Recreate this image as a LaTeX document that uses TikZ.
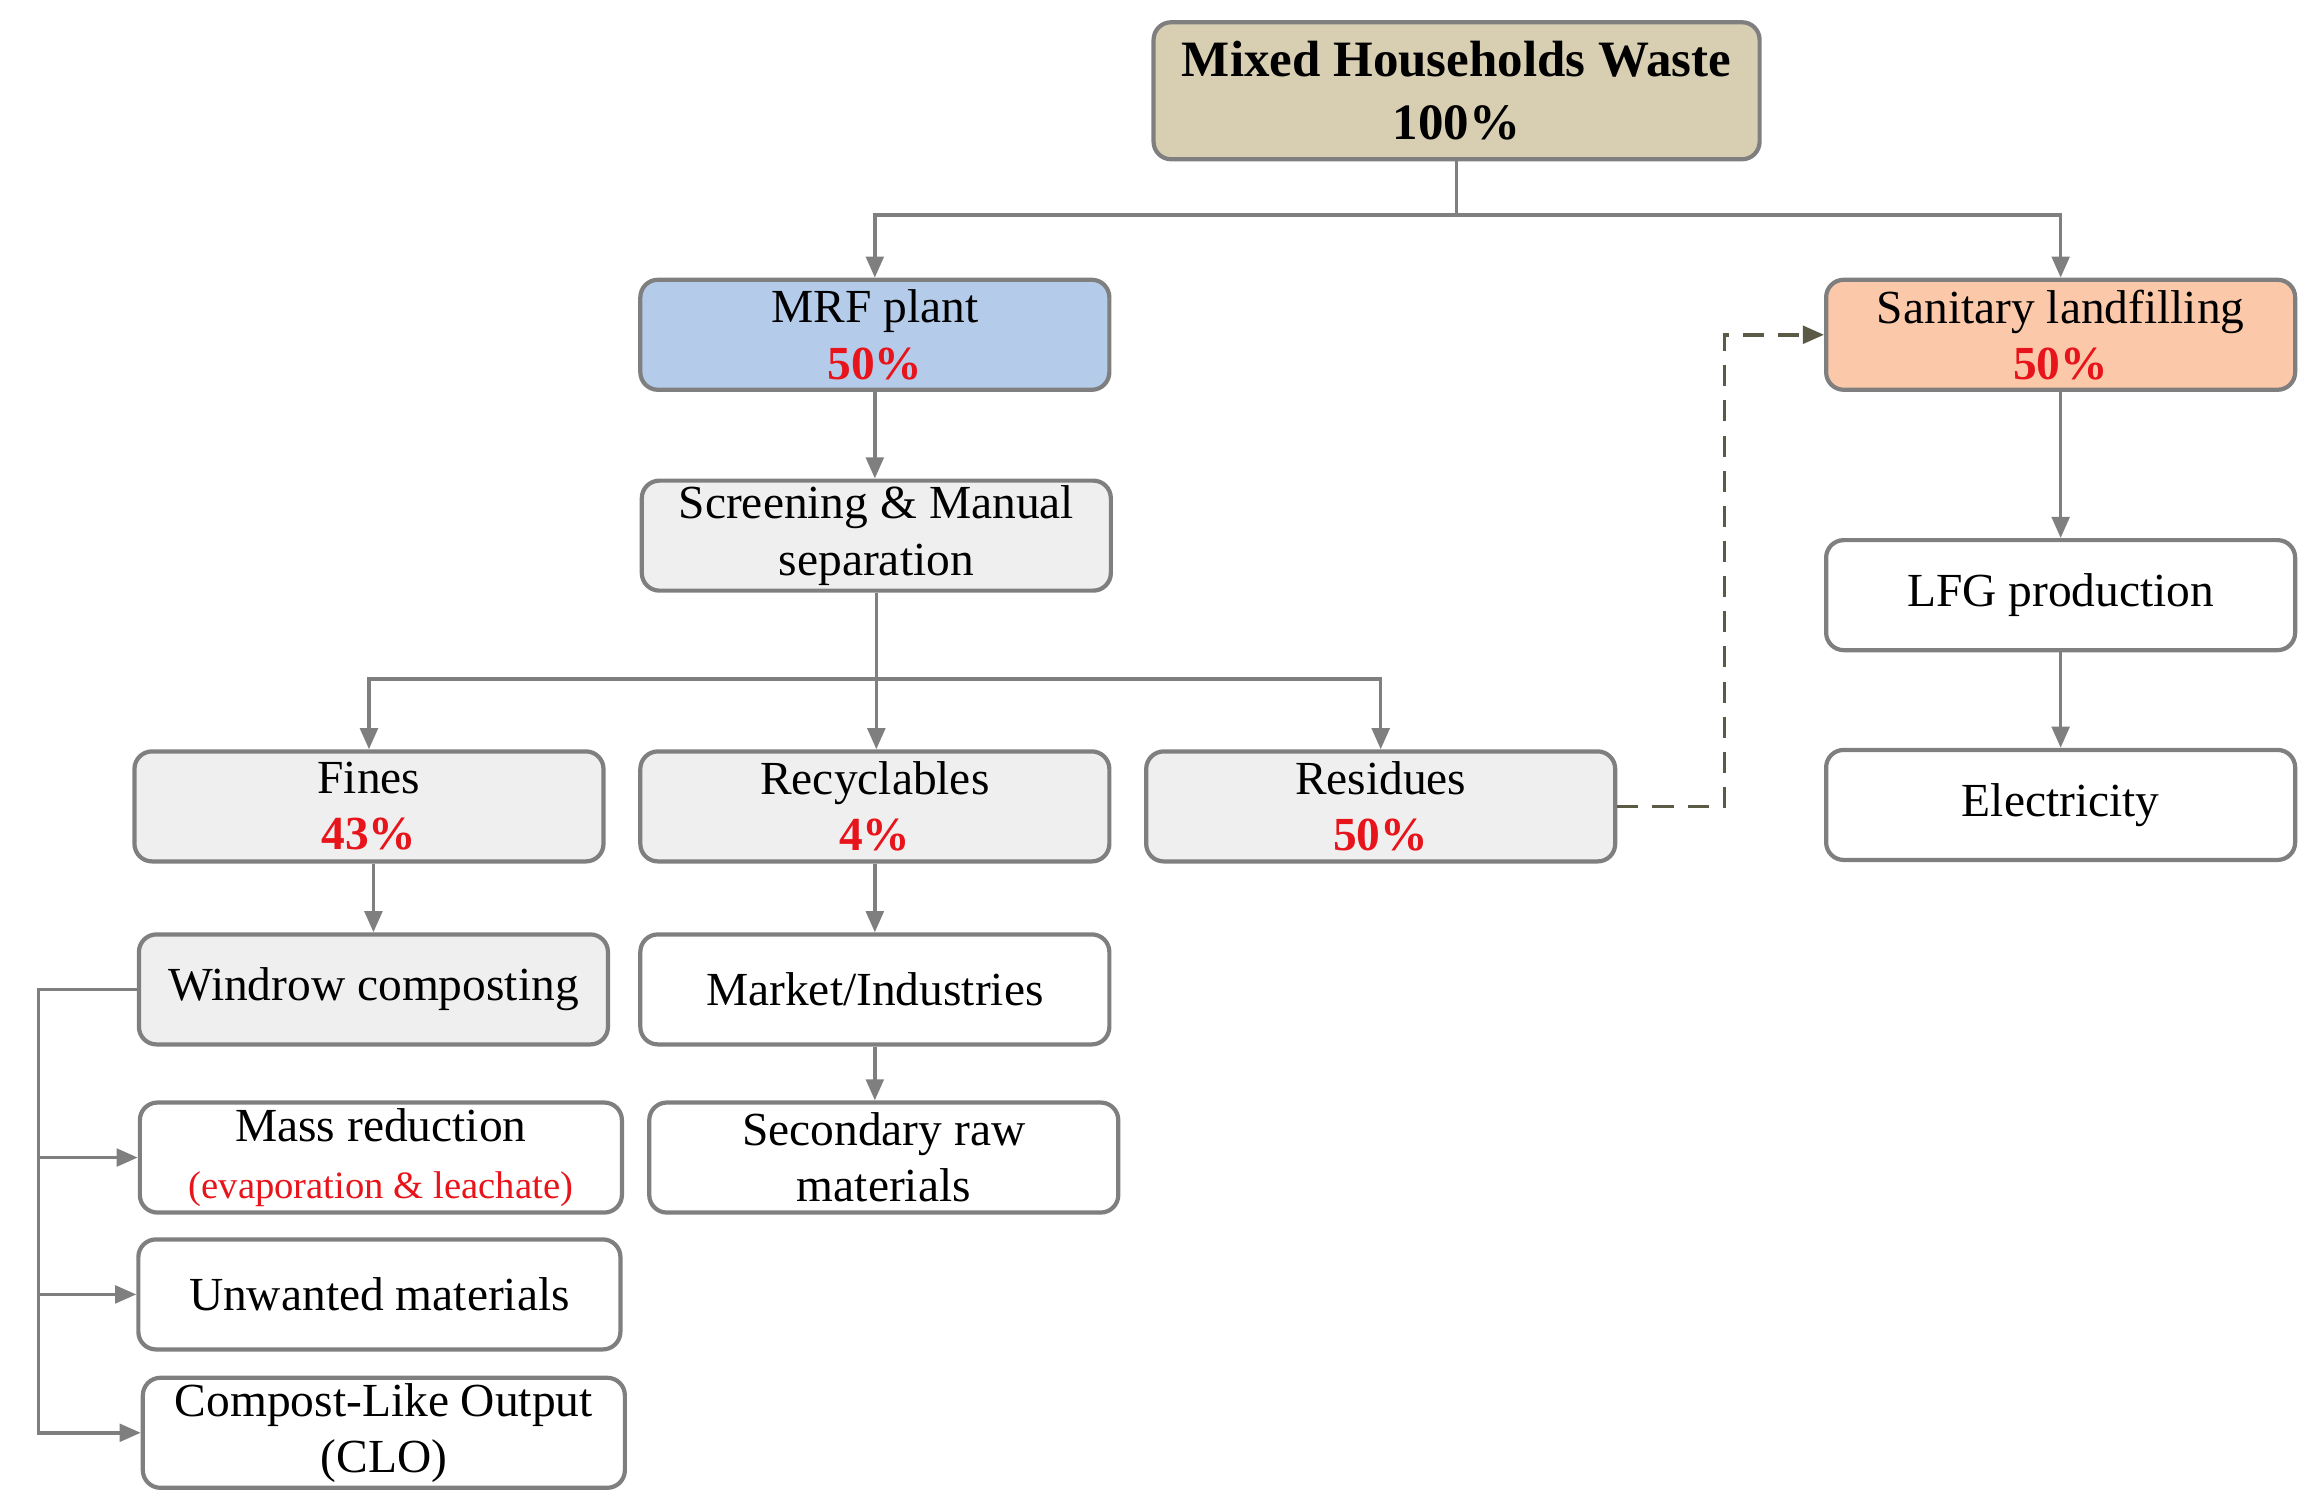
\documentclass[tikz,border=0pt]{standalone}
\usepackage{fontspec}
\setmainfont{Liberation Serif}
\definecolor{lin}{HTML}{7F7F7F}
\definecolor{tan}{HTML}{D8CFB3}
\definecolor{mrfblue}{HTML}{B4CCEA}
\definecolor{landred}{HTML}{FBC9A9}
\definecolor{boxgray}{HTML}{EFEFEF}
\definecolor{pct}{HTML}{E8141B}
\definecolor{olive}{HTML}{5A5A46}
\usetikzlibrary{arrows.meta}
\tikzset{
  box/.style={draw=lin, line width=1.2pt, rounded corners=5pt, minimum width=4.69cm,
    minimum height=1.10cm, align=center, inner sep=1pt, font=\fontsize{13.5}{16}\selectfont},
  gbox/.style={box, fill=boxgray},
  arr/.style={draw=lin, line width=1pt, -{Triangle[length=6pt,width=5pt]}},
}
\newcommand{\pc}[1]{\textcolor{pct}{\textbf{#1}}}
\begin{document}
\begin{tikzpicture}[x=0.01488cm,y=0.01488cm]
\useasboundingbox (0,0) rectangle (1560,-1015);

\node[box, fill=tan, minimum width=6.06cm, minimum height=1.37cm, font=\fontsize{14.5}{18}\selectfont\bfseries] (top) at (979,-61) {Mixed Households Waste\\100\%};
\node[box, fill=mrfblue] (mrf) at (588,-225) {MRF plant\\\pc{50\%}};
\node[box, fill=landred] (land) at (1385,-225) {Sanitary landfilling\\\pc{50\%}};
\node[gbox] (scr) at (589,-360) {Screening \& Manual\\separation};
\node[box] (lfg) at (1385,-400) {LFG production};
\node[box] (elec) at (1385,-541) {Electricity};
\node[gbox] (fines) at (248,-542) {Fines\\\pc{43\%}};
\node[gbox] (recyc) at (588,-542) {Recyclables\\\pc{4\%}};
\node[gbox] (res) at (928,-542) {Residues\\\pc{50\%}};
\node[gbox] (wind) at (251,-665) {Windrow composting};
\node[box] (market) at (588,-665) {Market/Industries};
\node[box, minimum width=4.82cm] (mass) at (256,-778) {Mass reduction\\{\fontsize{11}{13}\selectfont\textcolor{pct}{(evaporation \& leachate)}}};
\node[box] (sec) at (594,-778) {Secondary raw\\materials};
\node[box, minimum width=4.82cm] (unw) at (255,-870) {Unwanted materials};
\node[box, minimum width=4.82cm] (clo) at (258,-963) {Compost-Like Output\\(CLO)};

% main split
\draw[arr] (top.south) -- ++(0,-36) -| (mrf.north);
\draw[arr] (top.south) -- ++(0,-36) -| (land.north);
\draw[arr] (mrf.south) -- (mrf.south |- scr.north);
% screening outputs
\draw[arr] (scr.south) -- ++(0,-58) -| (fines.north);
\draw[arr] (scr.south) -- ++(0,-58) -| (res.north);
\draw[arr] (scr.south) -- (scr.south |- recyc.north);
\draw[arr] (wind.north |- fines.south) -- (wind.north);
\draw[arr] (recyc.south) -- (market.north);
\draw[arr] (market.south) -- (market.south |- sec.north);
% composting products
\draw[arr] (wind.west) -- ++(-66,0) |- (mass.west);
\draw[arr] (wind.west) -- ++(-66,0) |- (unw.west);
\draw[arr] (wind.west) -- ++(-66,0) |- (clo.west);
% landfill
\draw[arr, draw=olive, dashed, dash pattern=on 6pt off 4pt] (res.east) -- ++(72,0) |- (land.west);
\draw[arr] (land.south) -- (lfg.north);
\draw[arr] (lfg.south) -- (elec.north);
\end{tikzpicture}
\end{document}
